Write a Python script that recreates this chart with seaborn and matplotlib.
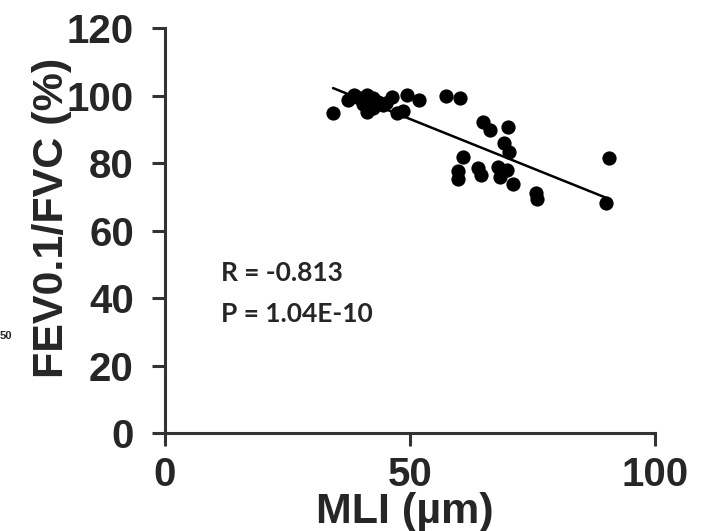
import matplotlib
matplotlib.use("Agg")
import matplotlib.pyplot as plt
import seaborn as sns
import pandas as pd

# values
mli = [34.3, 37.4, 38.5, 39.1, 40.5, 41.2, 42.5, 43.5, 41.2, 42.5,
       44.5, 45.2, 46.3, 47.3, 48.6, 49.4, 51.9, 57.3, 60.3,
       64.8, 66.3, 69.9, 69.2, 70.3, 60.9, 59.7, 59.7, 63.9, 64.4,
       68.0, 69.7, 68.4, 71.0, 75.7, 75.9, 90.7, 90.1]
fev_fvc = [95.0, 98.8, 100.3, 99.7, 97.5, 100.3, 99.3, 98.3, 95.3, 96.3,
           97.2, 97.8, 99.5, 95.0, 95.5, 100.3, 98.7, 100.0, 99.3,
           92.3, 89.9, 90.7, 85.9, 83.4, 82.0, 77.8, 75.3, 78.5, 76.5,
           79.0, 78.0, 76.0, 74.0, 71.3, 69.5, 81.6, 68.1]
x_ticks = [0, 50, 100]
y_ticks = [0, 20, 40, 60, 80, 100, 120]
stats_text = ["R = -0.813", "P = 1.04E-10"]

df = pd.DataFrame({"MLI": mli, "FEV": fev_fvc})

sns.set_style("ticks")
plt.rcParams["font.family"] = ["Liberation Sans", "DejaVu Sans"]

fig = plt.figure(figsize=(7.04, 5.31), dpi=100)
ax = fig.add_axes([0.2344, 0.184, 0.696, 0.7627])

sns.regplot(data=df, x="MLI", y="FEV", ax=ax, ci=None,
            scatter_kws={"s": 105, "color": "black", "linewidths": 0, "alpha": 1},
            line_kws={"color": "black", "lw": 1.8})

ax.set_xlim(0, 100)
ax.set_ylim(0, 120)
ax.set_xticks(x_ticks)
ax.set_yticks(y_ticks)
ax.tick_params(axis="both", labelsize=29, width=2.2, length=9.5, color="#333333")
ax.tick_params(axis="y", pad=13)
ax.tick_params(axis="x", pad=7)
for lbl in ax.get_xticklabels() + ax.get_yticklabels():
    lbl.set_fontweight("bold")
for side in ["top", "right"]:
    ax.spines[side].set_visible(False)
for side in ["left", "bottom"]:
    ax.spines[side].set_linewidth(2.2)
    ax.spines[side].set_color("#333333")

ax.set_xlabel("")
ax.set_ylabel("")
fig.text(0.575, 0.015, "MLI (µm)", fontsize=31, fontweight="bold",
         ha="center", va="baseline")
fig.text(0.074, 0.589, "FEV0.1/FVC (%)", fontsize=31, fontweight="bold",
         rotation=90, ha="center", va="center")

ax.text(0.115, 0.395, stats_text[0], transform=ax.transAxes, fontsize=19,
        fontweight="bold", family=["Lato", "DejaVu Sans"], va="center")
ax.text(0.115, 0.295, stats_text[1], transform=ax.transAxes, fontsize=19,
        fontweight="bold", family=["Lato", "DejaVu Sans"], va="center")

fig.text(0.0, 0.367, "50", fontsize=8, fontweight="bold", va="center")

fig.savefig("out.png", dpi=100)
